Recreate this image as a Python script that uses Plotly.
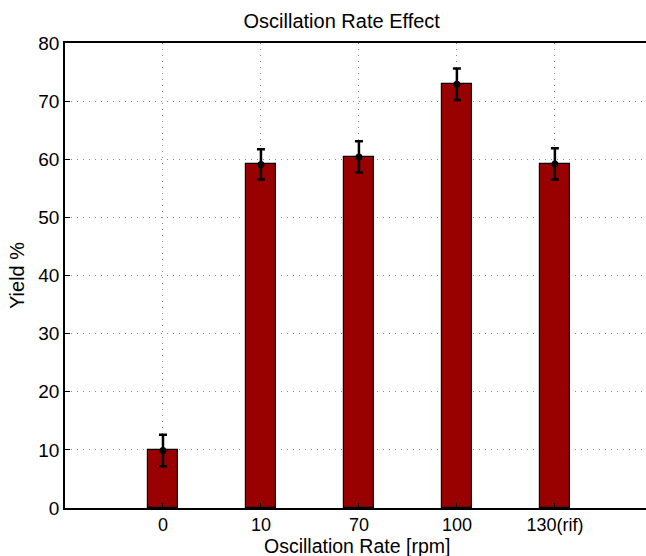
import plotly.graph_objects as go

categories = ["0", "10", "70", "100", "130(rif)"]
positions = [1, 2, 3, 4, 5]
yield_pct = [9.9, 59.1, 60.4, 72.9, 59.2]
errors = [2.7, 2.6, 2.7, 2.7, 2.7]
y_ticks = [0, 10, 20, 30, 40, 50, 60, 70, 80]

font_family = "Liberation Sans, Arial, Helvetica, sans-serif"

fig = go.Figure()
fig.add_trace(go.Bar(
    x=positions, y=yield_pct, width=0.3,
    marker=dict(color="#990000", line=dict(color="black", width=1.2)),
    showlegend=False,
))
fig.add_trace(go.Scatter(
    x=positions, y=yield_pct, mode="markers",
    marker=dict(color="black", size=7),
    error_y=dict(type="data", array=errors, color="black", thickness=2.5, width=4),
    showlegend=False,
))

fig.update_layout(
    width=646, height=556,
    margin=dict(l=65, r=0, t=43, b=48),
    paper_bgcolor="white", plot_bgcolor="white",
    font=dict(family=font_family, size=20, color="black"),
    title=dict(text="Oscillation Rate Effect", x=0.529, xanchor="center",
               y=0.962, yanchor="middle", font=dict(size=20)),
    bargap=0,
    annotations=[dict(
        text="Oscillation Rate [rpm]", xref="paper", yref="paper",
        x=0.502, y=-0.081, xanchor="center", yanchor="middle",
        showarrow=False, font=dict(size=19.5),
    )],
)
fig.update_xaxes(
    range=[0, 5.93], tickmode="array", tickvals=positions, ticktext=categories,
    showline=True, linecolor="black", linewidth=1.5, mirror=True,
    ticks="inside", ticklen=5, tickcolor="black",
    showgrid=True, gridcolor="#888888", griddash="1px,5px", gridwidth=1,
    zeroline=False, tickfont=dict(size=18),
)
fig.update_yaxes(
    range=[0, 80], tickmode="array", tickvals=y_ticks,
    showline=True, linecolor="black", linewidth=1.5, mirror=False,
    ticks="inside", ticklen=5, tickcolor="black",
    showgrid=True, gridcolor="#888888", griddash="1px,5px", gridwidth=1,
    zeroline=False, tickfont=dict(size=19),
    title=dict(text="Yield %", standoff=8, font=dict(size=20)),
)

fig.write_html("out.html")
